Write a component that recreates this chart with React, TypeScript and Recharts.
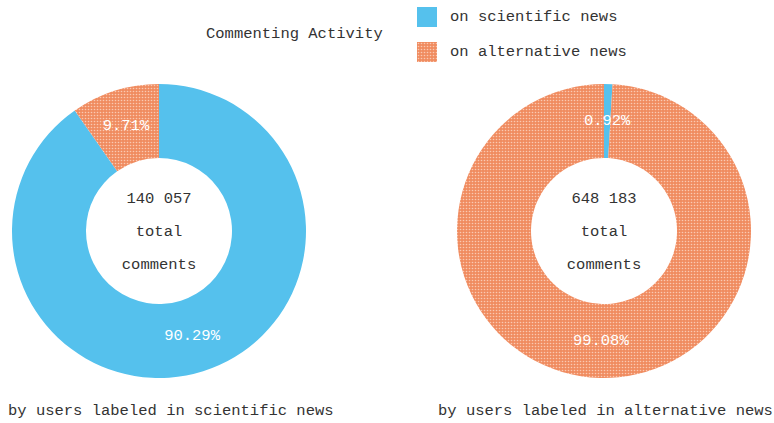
import { PieChart, Pie, Cell } from 'recharts';

const SERIES = ['on scientific news', 'on alternative news'];
const SCIENTIFIC_USERS = [90.29, 9.71];
const ALTERNATIVE_USERS = [0.92, 99.08];
const TOTALS = ['140 057', '648 183'];
const GROUP_LABELS = [
  'by users labeled in scientific news',
  'by users labeled in alternative news',
];
const TITLE = 'Commenting Activity';

const BLUE = '#55C1ED';
const ORANGE = 'url(#dotsOrange)';
const COLORS = [BLUE, ORANGE];
const FONT = '"Liberation Mono", "DejaVu Sans Mono", monospace';
const RADIAN = Math.PI / 180;

const toData = (values: number[]) =>
  values.map((v, i) => ({ name: SERIES[i], value: v }));

function sliceLabel(props: any) {
  const { cx, cy, midAngle, innerRadius, outerRadius, value } = props;
  const r = (innerRadius + outerRadius) / 2;
  const x = cx + r * Math.cos(-midAngle * RADIAN);
  const y = cy + r * Math.sin(-midAngle * RADIAN);
  return (
    <text
      x={x}
      y={y}
      fill="#ffffff"
      textAnchor="middle"
      dominantBaseline="central"
      fontFamily={FONT}
      fontSize={15.5}
    >
      {`${value.toFixed(2)}%`}
    </text>
  );
}

export default function App() {
  const pies = [SCIENTIFIC_USERS, ALTERNATIVE_USERS];
  const centers = [159, 604];
  return (
    <div
      style={{
        position: 'fixed',
        left: 0,
        top: 0,
        width: 774,
        height: 423,
        background: '#fff',
        fontFamily: FONT,
        color: '#333',
      }}
    >
      {/* dotted fill used by the alternative-news slices */}
      <svg width={0} height={0} style={{ position: 'absolute' }}>
        <defs>
          <pattern id="dotsOrange" width={3} height={3} patternUnits="userSpaceOnUse">
            <rect width={3} height={3} fill="#F08C60" />
            <circle cx={1.5} cy={1.5} r={0.8} fill="#FAC9B2" />
          </pattern>
        </defs>
      </svg>
      <PieChart width={774} height={423} margin={{ top: 0, right: 0, bottom: 0, left: 0 }}>
        {pies.map((vals, k) => (
          <Pie
            key={k}
            data={toData(vals)}
            dataKey="value"
            cx={centers[k]}
            cy={231}
            innerRadius={73}
            outerRadius={147}
            startAngle={90}
            endAngle={-270}
            stroke="none"
            label={sliceLabel}
            labelLine={false}
            isAnimationActive={false}
          >
            {vals.map((_, i) => (
              <Cell key={i} fill={COLORS[i]} />
            ))}
          </Pie>
        ))}
      </PieChart>

      {TOTALS.map((t, k) => (
        <div
          key={t}
          style={{
            position: 'absolute',
            left: centers[k] - 60,
            width: 120,
            top: 187,
            textAlign: 'center',
            fontSize: 15.5,
          }}
        >
          <div style={{ lineHeight: '24px', marginBottom: 9 }}>{t}</div>
          <div style={{ lineHeight: '24px', marginBottom: 9 }}>total</div>
          <div style={{ lineHeight: '24px' }}>comments</div>
        </div>
      ))}

      <div style={{ position: 'absolute', left: 206, top: 25, fontSize: 15.5 }}>
        {TITLE}
      </div>

      {SERIES.map((s, i) => (
        <div
          key={s}
          style={{
            position: 'absolute',
            left: 417,
            top: 7 + i * 35,
            display: 'flex',
            alignItems: 'center',
            fontSize: 15.5,
          }}
        >
          <svg width={20} height={20} style={{ marginRight: 13 }}>
            <rect width={20} height={20} fill={COLORS[i]} />
          </svg>
          <span>{s}</span>
        </div>
      ))}

      {GROUP_LABELS.map((g, i) => (
        <div
          key={g}
          style={{
            position: 'absolute',
            left: i === 0 ? 8 : 438,
            top: 402,
            fontSize: 15.5,
            whiteSpace: 'nowrap',
          }}
        >
          {g}
        </div>
      ))}
    </div>
  );
}
